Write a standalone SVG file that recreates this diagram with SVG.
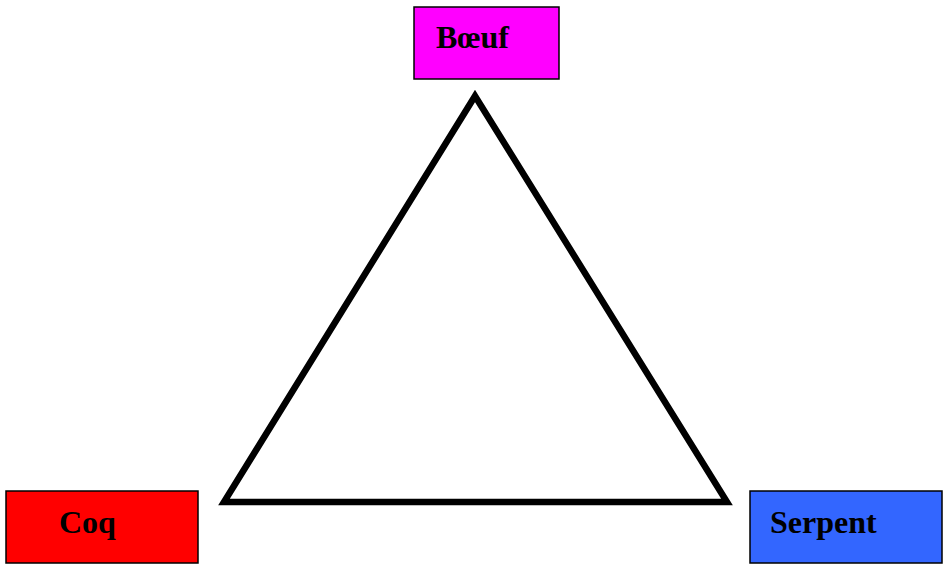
<svg xmlns="http://www.w3.org/2000/svg" width="943" height="566" viewBox="0 0 943 566">
<style>
.box{stroke:#000;stroke-width:1.5}
.lbl{font-family:"Liberation Serif","Times New Roman",serif;font-weight:bold;font-size:32px;fill:#000}
</style>
<rect width="943" height="566" fill="#fff"/>
<g id="connectors">
<polygon points="475,96 224,502 727,502" fill="none" stroke="#000" stroke-width="6.5" stroke-linejoin="miter"/>
</g>
<g id="boeuf">
<rect class="box" x="414" y="7" width="145" height="72" fill="#ff00ff"/>
<text class="lbl" x="436" y="48">Bœuf</text>
</g>
<g id="coq">
<rect class="box" x="6" y="491" width="192" height="72" fill="#ff0000"/>
<text class="lbl" x="59" y="533">Coq</text>
</g>
<g id="serpent">
<rect class="box" x="750" y="491" width="192" height="72" fill="#3366ff"/>
<text class="lbl" x="770" y="533">Serpent</text>
</g>
</svg>
